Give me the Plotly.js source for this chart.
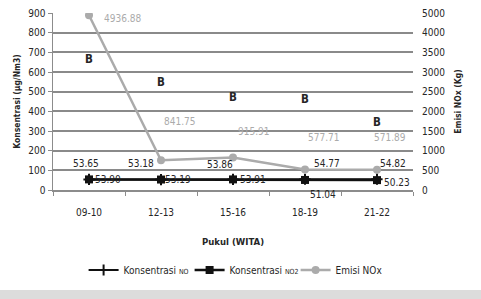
<!DOCTYPE html>
<html>
<head>
<meta charset="utf-8">
<script src="https://cdn.plot.ly/plotly-3.0.1.min.js"></script>
<style>html,body{margin:0;padding:0;background:#fff;}#chart{width:481px;height:299px;}</style>
</head>
<body>
<div id="chart"></div>
<script>
// ---- data ----
var categories = ['09-10', '12-13', '15-16', '18-19', '21-22'];
var konsentrasiNO = [53.65, 53.18, 53.86, 54.77, 54.82];
var konsentrasiNO2 = [53.90, 53.19, 53.91, 51.04, 50.23];
var emisiNOx = [4936.88, 841.75, 915.91, 577.71, 571.89];
var bMarks = [661, 544, 468, 458, 341];
var leftTicks = [0, 100, 200, 300, 400, 500, 600, 700, 800, 900];
var rightTickLabels = ['0', '500', '1000', '1500', '2000', '2500', '3000', '3500', '4000', '5000'];

// ---- styling ----
var FONT = 'DejaVu Sans Condensed, Liberation Sans Narrow, Liberation Sans, Arial, sans-serif';
var DARK = '#262626';
var GRAY = '#ababab';
var RMAX = 5000;

// label offsets (px) for the data labels
var noShift = [[-3, 16], [-20, 16], [-13, 15], [22, 16], [16, 16]];
var no2Shift = [[19, 0], [17, 0], [20, 0], [18, -15], [20, -2]];
var emShift = [[33, -3], [18, 39], [20, 26], [18, 32], [13, 32]];

var traces = [
  {
    x: categories, y: konsentrasiNO, name: 'Konsentrasi <span style="font-size:7px">NO</span>',
    type: 'scatter', mode: 'lines+markers', yaxis: 'y',
    line: {color: '#111', width: 2},
    marker: {symbol: 'cross-thin-open', size: 8, color: '#111', line: {color: '#111', width: 2}}
  },
  {
    x: categories, y: konsentrasiNO2, name: 'Konsentrasi <span style="font-size:7px">NO2</span>',
    type: 'scatter', mode: 'lines+markers', yaxis: 'y',
    line: {color: '#111', width: 2.5},
    marker: {symbol: 'square', size: 8, color: '#111'}
  },
  {
    x: categories, y: emisiNOx, name: 'Emisi NOx',
    type: 'scatter', mode: 'lines+markers', yaxis: 'y2',
    line: {color: GRAY, width: 2.5},
    marker: {symbol: 'circle', size: 8, color: GRAY}
  },
  {
    x: categories, y: bMarks, text: categories.map(function(){return '<b>B</b>';}),
    type: 'scatter', mode: 'text', yaxis: 'y', showlegend: false, hoverinfo: 'skip',
    textfont: {family: FONT, size: 11.5, color: DARK}, textposition: 'middle center'
  }
];

var annotations = [];
function addLabels(vals, shifts, yref, color) {
  vals.forEach(function(v, i) {
    annotations.push({
      x: categories[i], y: v, xref: 'x', yref: yref,
      text: v.toFixed(2), showarrow: false,
      xshift: shifts[i][0], yshift: shifts[i][1],
      font: {family: FONT, size: 10, color: color}
    });
  });
}
addLabels(konsentrasiNO, noShift, 'y', DARK);
addLabels(konsentrasiNO2, no2Shift, 'y', DARK);
addLabels(emisiNOx, emShift, 'y2', GRAY);

var rightTickVals = rightTickLabels.map(function(_, i){ return i * RMAX / (rightTickLabels.length - 1); });

var layout = {
  width: 481, height: 299,
  margin: {l: 53, r: 68, t: 13, b: 109, autoexpand: false},
  paper_bgcolor: '#ffffff', plot_bgcolor: '#ffffff',
  font: {family: FONT, size: 10, color: DARK},
  showlegend: true,
  legend: {
    orientation: 'h', x: 0.085, xanchor: 'left', xref: 'paper',
    y: -0.452, yanchor: 'middle',
    font: {family: FONT, size: 10, color: DARK},
    entrywidth: 61, entrywidthmode: 'pixels',
    tracegroupgap: 0, bgcolor: 'rgba(0,0,0,0)', itemwidth: 30
  },
  xaxis: {
    type: 'category', range: [-0.5, 4.5],
    showgrid: false, zeroline: false,
    showline: true, linecolor: '#8c8c8c', linewidth: 1.5,
    ticks: 'outside', tickson: 'boundaries', ticklen: 4, tickcolor: '#8c8c8c',
    ticklabelstandoff: 12,
    tickfont: {family: FONT, size: 10, color: DARK},
    title: {text: '<b>Pukul (WITA)</b>', font: {family: FONT, size: 9.5, color: DARK}, standoff: 22}
  },
  yaxis: {
    range: [0, 900], tickvals: leftTicks,
    showgrid: true, gridcolor: '#8a8a8a', gridwidth: 2,
    zeroline: false,
    showline: true, linecolor: '#8c8c8c', linewidth: 1.5,
    ticks: 'outside', ticklen: 4, tickcolor: '#8c8c8c',
    tickfont: {family: FONT, size: 10, color: DARK},
    title: {text: '<b>Konsentrasi (µg/Nm3)</b>', font: {family: FONT, size: 8.5, color: DARK}, standoff: 6}
  },
  yaxis2: {
    overlaying: 'y', side: 'right',
    range: [0, RMAX], tickvals: rightTickVals, ticktext: rightTickLabels,
    showgrid: false, zeroline: false, showline: false,
    ticks: '', ticklabelstandoff: 8,
    tickfont: {family: FONT, size: 10, color: DARK},
    title: {text: '<b>Emisi NOx (Kg)</b>', font: {family: FONT, size: 8.5, color: DARK}, standoff: 10}
  },
  annotations: annotations,
  shapes: [
    {type: 'rect', xref: 'paper', yref: 'paper', x0: -0.2, x1: 1.3, y0: -0.75, y1: -0.565,
     fillcolor: '#dcdcdc', line: {width: 0}, layer: 'below'}
  ]
};

Plotly.newPlot('chart', traces, layout, {displayModeBar: false, staticPlot: true});
</script>
</body>
</html>
